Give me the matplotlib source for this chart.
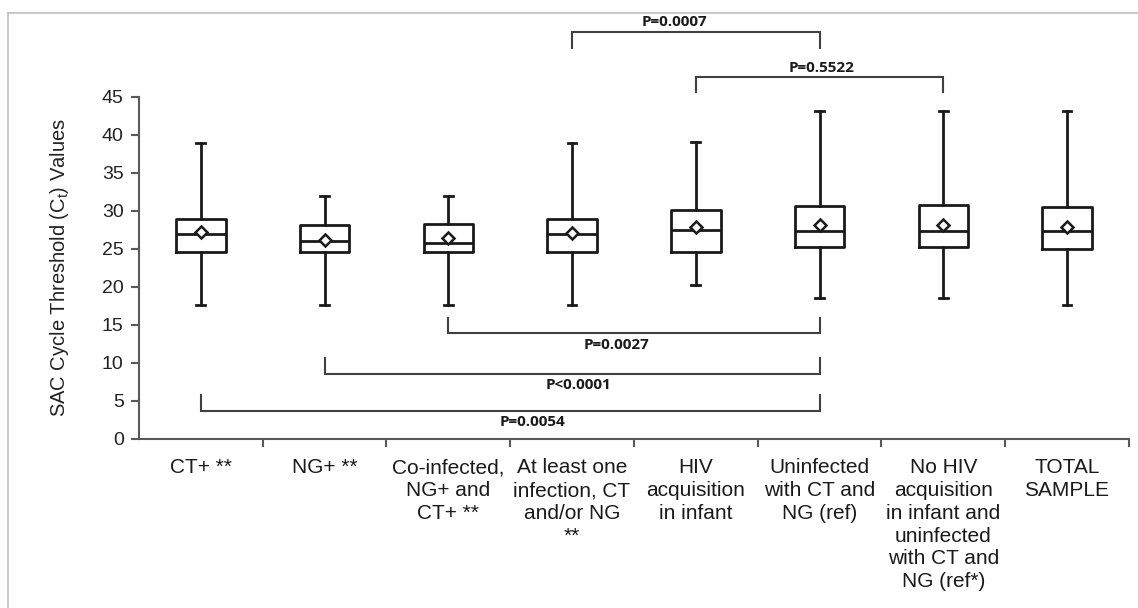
import matplotlib
matplotlib.use("Agg")
import matplotlib.pyplot as plt
from matplotlib.lines import Line2D

plt.rcParams['font.family'] = ['Liberation Sans', 'DejaVu Sans']
plt.rcParams['mathtext.default'] = 'regular'

# categories and box statistics (Ct values)
labels = ["CT+ **", "NG+ **", "Co-infected,\nNG+ and\nCT+ **",
          "At least one\ninfection, CT\nand/or NG\n**", "HIV\nacquisition\nin infant",
          "Uninfected\nwith CT and\nNG (ref)",
          "No HIV\nacquisition\nin infant and\nuninfected\nwith CT and\nNG (ref*)",
          "TOTAL\nSAMPLE"]
whislo = [17.6, 17.6, 17.6, 17.6, 20.2, 18.6, 18.6, 17.6]
q1 = [24.65, 24.65, 24.65, 24.65, 24.65, 25.2, 25.2, 25.0]
med = [27.0, 26.1, 25.8, 27.0, 27.5, 27.4, 27.4, 27.4]
q3 = [29.0, 28.1, 28.3, 29.0, 30.1, 30.7, 30.8, 30.5]
whishi = [38.9, 32.0, 32.0, 38.9, 39.1, 43.2, 43.2, 43.2]
means = [27.2, 26.2, 26.4, 27.1, 27.9, 28.1, 28.1, 27.9]

# pairwise comparisons (group index a, group index b, p label)
comp_a = [3, 4, 2, 1, 0]
comp_b = [5, 6, 5, 5, 5]
comp_p = ["P=0.0007", "P=0.5522", "P=0.0027", "P<0.0001", "P=0.0054"]

# bracket layout: line level, arm end, text x, text y
br_line = [53.6, 47.6, 13.9, 8.55, 3.7]
br_end = [51.4, 45.7, 15.9, 10.6, 5.8]
br_tx = [3.83, 5.02, 3.36, 3.05, 2.68]
br_ty = [53.9, 47.9, 12.4, 7.1, 2.2]

stats = []
for i in range(len(labels)):
    stats.append(dict(whislo=whislo[i], q1=q1[i], med=med[i], q3=q3[i],
                      whishi=whishi[i], mean=means[i], fliers=[]))

fig = plt.figure(figsize=(11.38, 6.08), dpi=100)
ax = fig.add_axes([0.1221, 0.278, 0.8699, 0.5625])

lc = "#1a1a1a"
ax.bxp(stats, positions=range(len(labels)), widths=0.4, showmeans=True,
       showfliers=False, capwidths=0.07,
       boxprops=dict(color=lc, linewidth=2),
       whiskerprops=dict(color=lc, linewidth=2),
       capprops=dict(color=lc, linewidth=2),
       medianprops=dict(color=lc, linewidth=2),
       meanprops=dict(marker="D", markerfacecolor="white", markeredgecolor=lc,
                      markersize=6.5, markeredgewidth=1.8))

ax.set_xlim(-0.5, len(labels) - 0.5)
ax.set_ylim(0, 45)
ax.set_yticks(range(0, 46, 5))
ax.set_xticks(range(len(labels)))
ax.set_xticklabels(labels, fontsize=15, linespacing=1.25, va="top",
                   color="#1a1a1a")
ax.set_xticks([i - 0.5 for i in range(1, len(labels) + 1)], minor=True)
ax.tick_params(axis="x", which="major", length=0, pad=14)
ax.tick_params(axis="x", which="minor", length=6, width=1.5, color="#595959")
ax.tick_params(axis="y", length=6, width=1.5, color="#595959", labelsize=14,
               labelcolor="#222222", pad=5)
for s in ["top", "right"]:
    ax.spines[s].set_visible(False)
for s in ["left", "bottom"]:
    ax.spines[s].set_color("#595959")
    ax.spines[s].set_linewidth(1.5)
ax.set_ylabel("SAC Cycle Threshold (C$_t$) Values", fontsize=14.5, labelpad=22,
              color="#222222")

bc = "#404040"
for a, b, p, yl, ye, tx, ty in zip(comp_a, comp_b, comp_p, br_line, br_end, br_tx, br_ty):
    ax.plot([a, a, b, b], [ye, yl, yl, ye], color=bc, linewidth=1.5,
            clip_on=False, solid_joinstyle="miter")
    ax.text(tx, ty, p, ha="center", va="bottom" if yl > 45 else "center",
            fontsize=11, fontweight="bold", color="#1a1a1a",
            family=["Open Sans", "DejaVu Sans"], clip_on=False)

# light frame around the chart
fig.add_artist(Line2D([8 / 1138, 1], [1 - 13 / 608, 1 - 13 / 608],
                      color="#c0c0c0", linewidth=1.2, transform=fig.transFigure))
fig.add_artist(Line2D([8 / 1138, 8 / 1138], [0, 1 - 13 / 608],
                      color="#c0c0c0", linewidth=1.2, transform=fig.transFigure))

fig.savefig("out.png", dpi=100)
plt.close(fig)
